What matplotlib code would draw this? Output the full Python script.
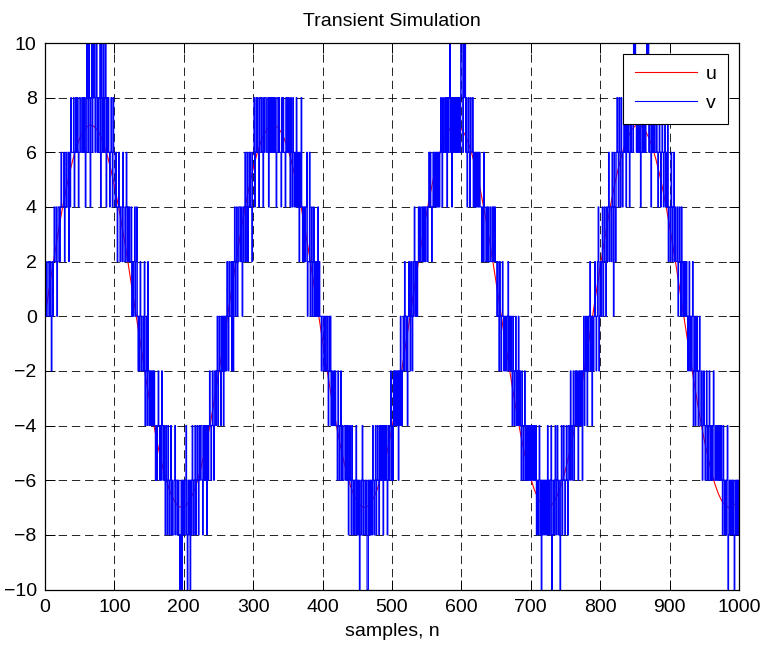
import numpy as np
import matplotlib
matplotlib.use("Agg")
import matplotlib.pyplot as plt

# Input signal u, tabulated every 5 samples
u_n = list(range(0, 1001, 5))
u_vals = [
    0.00, 0.83, 1.66, 2.45, 3.22, 3.94, 4.60, 5.19, 5.72, 6.16,
    6.51, 6.77, 6.93, 7.00, 6.96, 6.83, 6.60, 6.27, 5.86, 5.36,
    4.78, 4.14, 3.44, 2.69, 1.90, 1.08, 0.25, -0.58, -1.41, -2.22,
    -2.99, -3.73, -4.41, -5.02, -5.57, -6.03, -6.41, -6.70, -6.90, -6.99,
    -6.98, -6.88, -6.68, -6.38, -5.99, -5.52, -4.96, -4.34, -3.66, -2.92,
    -2.14, -1.33, -0.50, 0.33, 1.17, 1.98, 2.77, 3.51, 4.21, 4.84,
    5.41, 5.90, 6.31, 6.63, 6.85, 6.97, 7.00, 6.92, 6.75, 6.48,
    6.12, 5.67, 5.14, 4.53, 3.87, 3.14, 2.38, 1.57, 0.75, -0.08,
    -0.92, -1.74, -2.53, -3.29, -4.01, -4.66, -5.25, -5.77, -6.20, -6.54,
    -6.79, -6.94, -7.00, -6.96, -6.81, -6.57, -6.24, -5.81, -5.30, -4.72,
    -4.07, -3.37, -2.61, -1.82, -1.00, -0.17, 0.67, 1.49, 2.30, 3.07,
    3.80, 4.47, 5.08, 5.62, 6.08, 6.45, 6.73, 6.91, 6.99, 6.98,
    6.86, 6.65, 6.34, 5.95, 5.47, 4.91, 4.27, 3.58, 2.84, 2.06,
    1.25, 0.42, -0.42, -1.25, -2.06, -2.84, -3.58, -4.27, -4.91, -5.47,
    -5.95, -6.34, -6.65, -6.86, -6.98, -6.99, -6.91, -6.73, -6.45, -6.08,
    -5.62, -5.08, -4.47, -3.80, -3.07, -2.30, -1.49, -0.67, 0.17, 1.00,
    1.82, 2.61, 3.37, 4.07, 4.72, 5.30, 5.81, 6.24, 6.57, 6.81,
    6.96, 7.00, 6.94, 6.79, 6.54, 6.20, 5.77, 5.25, 4.66, 4.01,
    3.29, 2.53, 1.74, 0.92, 0.08, -0.75, -1.57, -2.38, -3.14, -3.87,
    -4.53, -5.14, -5.67, -6.12, -6.48, -6.75, -6.92, -7.00, -6.97, -6.85,
    -6.63,
]

# Quantized output v, one value per sample (50 samples per row)
v_rows = [
    [0,2,0,0,2, 2,0,2,0,-2, 2,0,2,4,2, 2,4,0,2,4, 4,2,4,6,4, 4,4,6,2,4, 6,4,4,6,2, 6,4,8,6,6, 6,8,4,6,8, 6,8,6,4,8],
    [8,6,6,8,6, 8,6,8,4,6, 10,8,6,10,8, 4,8,10,6,10, 8,10,6,8,10, 6,8,6,8,10, 4,10,8,6,10, 6,8,10,4,8, 6,8,6,4,6, 8,6,4,8,6],
    [6,4,6,4,2, 4,6,4,2,4, 4,2,6,4,2, 2,4,6,2,4, 2,4,2,2,4, 0,2,0,2,4, 0,2,4,0,-2, 0,-2,2,0,-2, -2,0,-2,2,-4, -2,0,-4,2,-2],
    [-4,-2,-4,-2,-4, -2,-4,-2,-4,-6, -4,-6,-4,-2,-4, -6,-4,-6,-2,-4, -6,-4,-6,-8,-4, -6,-8,-4,-6,-8, -6,-4,-8,-6,-8, -8,-6,-4,-8,-6, -6,-8,-6,-8,-10, -8,-6,-10,-6,-8],
    [-6,-8,-6,-4,-8, -10,-6,-8,-6,-10, -6,-8,-4,-6,-8, -6,-4,-8,-6,-4, -6,-8,-4,-6,-4, -4,-6,-8,-4,-6, -4,-6,-4,-8,-4, -6,-4,-2,-4,-6, -4,-2,-4,-6,-2, -2,-4,-2,0,-4],
    [-2,0,-2,-4,0, -2,0,-4,0,-2, 0,-2,2,0,-2, 2,0,0,2,-2, 2,-2,2,4,0, 2,4,0,2,4, 4,2,4,2,0, 4,2,4,6,2, 4,6,2,4,6, 4,6,4,2,6],
    [6,8,4,6,8, 6,8,6,4,8, 8,6,8,6,4, 8,6,8,8,6, 6,8,4,8,6, 8,6,8,6,8, 6,8,6,4,8, 8,6,8,6,6, 4,8,6,8,6, 6,4,8,6,8],
    [6,8,6,4,8, 6,4,8,6,4, 6,4,8,4,6, 4,2,6,4,8, 4,2,4,2,4, 2,4,6,0,2, 2,6,0,2,4, 0,2,4,0,2, 0,2,0,4,0, 2,0,0,-2,0],
    [0,-2,-2,0,-2, -2,0,-2,-4,0, -2,0,-4,-2,-4, -4,-2,-4,-2,-4, -4,-6,-2,-4,-6, -4,-2,-6,-4,-6, -6,-4,-4,-6,-4, -6,-4,-8,-6,-4, -6,-8,-4,-6,-8, -6,-8,-6,-4,-8],
    [-6,-8,-6,-10,-8, -6,-8,-4,-6,-8, -8,-6,-8,-6,-10, -10,-6,-8,-6,-8, -6,-8,-4,-6,-8, -6,-4,-8,-6,-4, -6,-8,-4,-6,-4, -6,-4,-8,-4,-6, -4,-6,-4,-8,-6, -4,-6,-4,-2,-6],
    [-4,-6,-2,-4,-2, -4,-2,-4,-2,-6, -2,-4,0,-2,-4, -2,0,-2,2,0, -2,0,-4,0,2, 0,-2,2,0,-2, 2,0,4,2,0, 2,0,2,4,2, 4,2,2,4,2, 4,2,4,2,4],
    [4,2,4,6,4, 6,4,2,4,6, 4,6,4,6,4, 6,4,6,4,6, 8,6,4,8,6, 6,8,6,8,4, 8,6,8,10,6, 8,4,8,6,8, 6,8,6,8,6, 8,6,8,6,10],
    [10,8,6,10,8, 10,6,8,4,6, 8,6,4,8,6, 6,8,4,6,4, 6,4,6,4,6, 4,6,4,4,2, 4,2,6,4,2, 2,4,2,4,2, 2,4,2,2,4, 2,4,2,4,2],
    [2,0,2,0,-2, 2,0,-2,0,2, 0,-2,0,-2,0, -2,0,2,-2,0, -2,0,-2,-4,0, -2,-4,-2,0,-4, -2,-4,0,-4,-2, -4,-6,-2,-4,-6, -4,-2,-6,-4,-6, -4,-6,-4,-6,-4],
    [-6,-4,-6,-4,-6, -4,-6,-4,-8,-6, -8,-6,-4,-8,-6, -10,-6,-8,-6,-8, -6,-8,-6,-8,-4, -8,-6,-8,-6,-4, -10,-8,-6,-8,-6, -4,-8,-6,-4,-8, -6,-8,-10,-6,-4, -8,-6,-4,-6,-8],
    [-6,-4,-6,-8,-4, -4,-6,-2,-4,-6, -4,-2,-6,-4,-2, -4,-2,-4,-6,-2, -4,-2,-4,-2,-6, -2,0,-4,-2,0, -2,-4,0,-2,0, 2,-2,0,-4,0, -2,0,2,0,-2, 0,2,4,-2,0],
    [2,0,2,4,0, 2,4,2,0,4, 2,4,6,2,4, 4,2,6,4,0, 6,4,2,6,8, 6,4,8,6,4, 8,6,4,6,8, 6,8,4,8,6, 8,6,4,8,6, 8,6,6,10,8],
    [10,8,6,8,6, 8,6,8,4,6, 8,6,8,6,8, 6,8,10,8,10, 6,8,6,4,8, 6,8,6,8,6, 6,8,6,4,6, 8,6,4,6,8, 6,4,6,8,4, 6,4,8,2,4],
    [4,2,6,4,2, 4,6,2,4,2, 2,4,0,2,4, 2,0,4,2,0, 2,0,2,0,2, 0,-2,0,2,-2, 0,-2,0,2,-4, -2,0,-4,-2,0, -2,-4,-2,0,-4, -4,-2,-6,-4,-2],
    [-4,-6,-4,-2,-6, -4,-6,-2,-4,-6, -4,-6,-4,-2,-6, -6,-4,-6,-4,-6, -4,-6,-4,-6,-4, -6,-8,-4,-6,-8, -6,-8,-6,-4,-10, -8,-6,-8,-6,-8, -6,-8,-6,-10,-8, -6,-8,-6,-8,-6],
]
v_vals = [x for row in v_rows for x in row]
v_n = list(range(len(v_vals)))

x_ticks = list(range(0, 1001, 100))
y_ticks = list(range(-10, 11, 2))

plt.rcParams['font.family'] = ['Liberation Sans', 'DejaVu Sans']
plt.rcParams['lines.scale_dashes'] = False

W, H = 765, 647
fig = plt.figure(figsize=(W / 100, H / 100), dpi=100)
left, right, top, bottom = 45, 739, 43, 589.5
ax = fig.add_axes([left / W, 1 - bottom / H, (right - left) / W, (bottom - top) / H])

ax.plot(u_n, u_vals, color='red', lw=0.8, label='u')
ax.plot(v_n, v_vals, color='blue', lw=0.8, drawstyle='steps-post', label='v')

ax.set_xlim(0, 1000)
ax.set_ylim(-10, 10)
ax.set_xticks(x_ticks)
ax.set_yticks(y_ticks)
ax.tick_params(direction='in', length=7, width=0.7, top=True, right=True,
               labelsize=14, colors='black')
ax.tick_params(axis='y', pad=6)
ax.tick_params(axis='x', pad=7)
ax.grid(True, color='black', linestyle=(0, (6, 3.5)), linewidth=0.6)
for s in ax.spines.values():
    s.set_linewidth(0.9)

ax.set_title('Transient Simulation', fontsize=14, pad=12)
ax.set_xlabel('samples, n', fontsize=14, labelpad=5)

leg = ax.legend(loc='upper right', fontsize=14, frameon=True, fancybox=False,
                edgecolor='black', framealpha=1, handlelength=3.2,
                handletextpad=0.45, borderpad=0.6, labelspacing=0.6,
                borderaxespad=0.55)
leg.get_frame().set_linewidth(0.8)

fig.savefig('out.png', dpi=100)
